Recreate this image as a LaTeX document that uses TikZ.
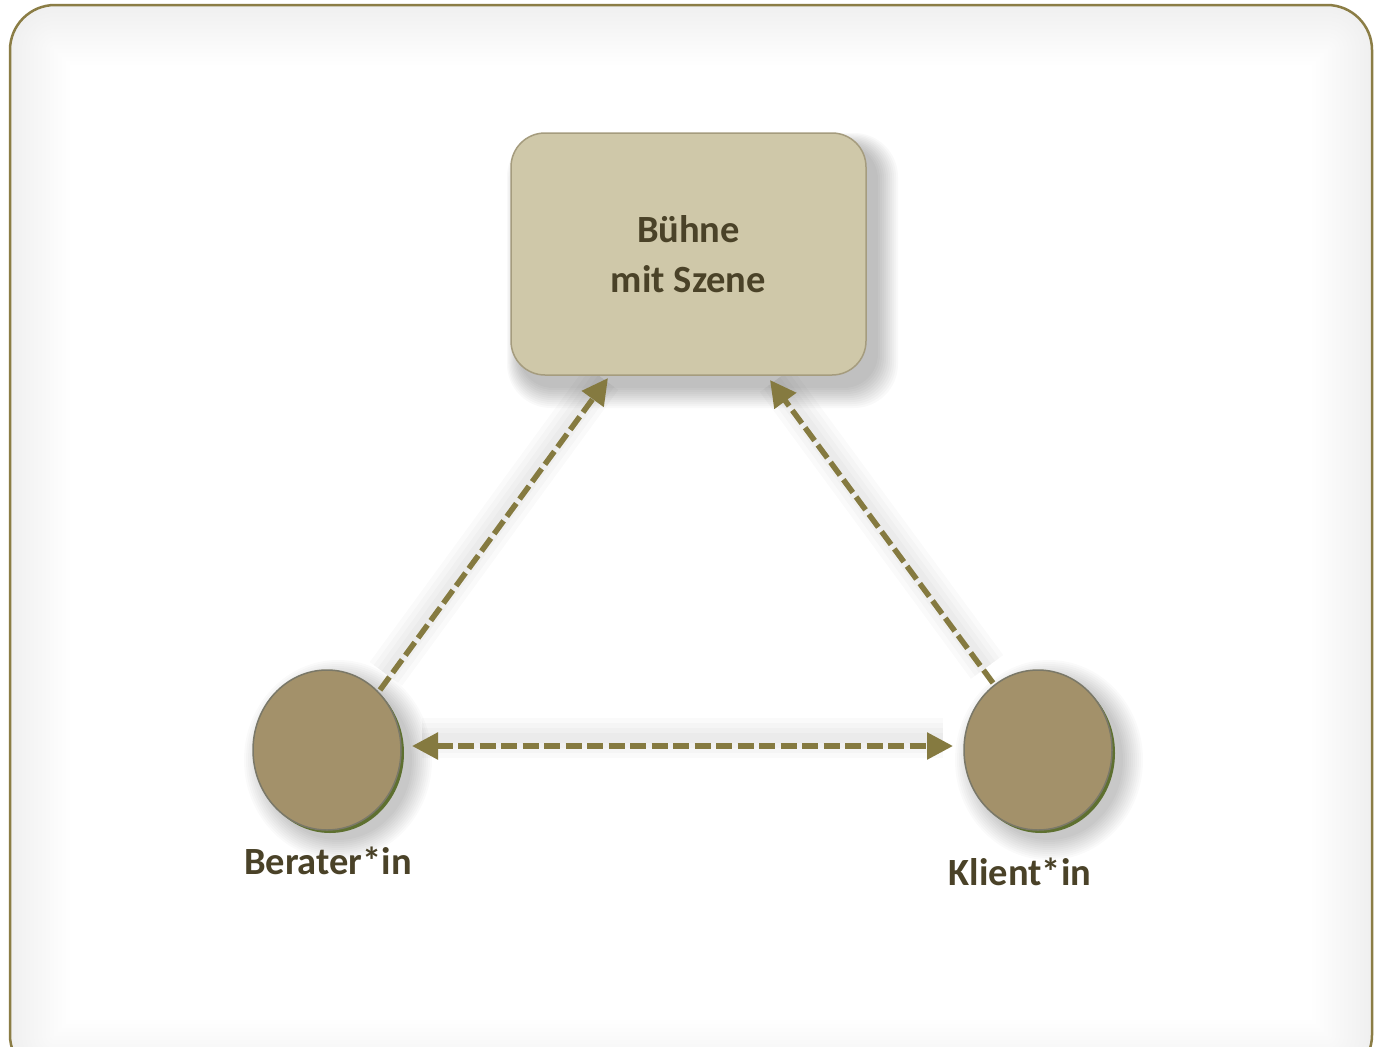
\documentclass[tikz,border=0pt]{standalone}
\usepackage{fontspec}
\setmainfont{Carlito}
\usetikzlibrary{arrows.meta,shapes.geometric}
\definecolor{frameol}{HTML}{8B7D45}
\definecolor{boxfill}{HTML}{CFC8A9}
\definecolor{boxline}{HTML}{A59C7E}
\definecolor{circfill}{HTML}{A3916A}
\definecolor{circline}{HTML}{7A7868}
\definecolor{circgreen}{HTML}{5E7030}
\definecolor{arrowcol}{HTML}{857A40}
\definecolor{txtcol}{HTML}{4A4228}
\tikzset{
  lbl/.style={font=\bfseries\fontsize{38.5}{50}\selectfont, text=txtcol, align=center},
  stagebox/.style={draw=boxline, line width=1.5pt, fill=boxfill, rounded corners=34pt,
     minimum width=355pt, minimum height=242pt, inner sep=0pt},
  person/.style={draw=circline, line width=1.5pt, fill=circfill, ellipse, minimum width=148pt, minimum height=160pt, inner sep=0pt},
  conn/.style={draw=arrowcol, line width=5.5pt, dash pattern=on 16pt off 5.5pt, -{Triangle[length=26pt,width=26pt]}},
  connshadow/.style={draw=black, opacity=0.018, line cap=butt, shorten <=10pt, shorten >=10pt},
}
\begin{document}
\begin{tikzpicture}[x=1pt,y=-1pt]
\useasboundingbox (0,0) rectangle (1374,1047);
\fill[white] (0,0) rectangle (1374,1047);
% frame inner glow
\begin{scope}
\clip[rounded corners=45pt] (10,5) rectangle (1372,1080);
\foreach \i in {0,4,...,56}{
  \draw[black, opacity=0.0045, line width=8pt+\i*2pt, rounded corners=45pt] (10,5) rectangle (1372,1080);
}
\end{scope}
\draw[frameol, line width=2.5pt, rounded corners=45pt] (10,5) rectangle (1372,1080);

\coordinate (b1) at (380,690);
\coordinate (b2) at (608,378);
\coordinate (k1) at (993,683);
\coordinate (k2) at (770,380);
\coordinate (h1) at (412,746);
\coordinate (h2) at (953,746);
% soft connector shadows
\foreach \w in {10,20,30,40}{
  \draw[connshadow, line width=\w pt] ([yshift=8pt]b1) -- ([yshift=8pt]b2);
  \draw[connshadow, line width=\w pt] ([yshift=8pt]k1) -- ([yshift=8pt]k2);
  \draw[connshadow, line width=\w pt] ([yshift=8pt]h1) -- ([yshift=8pt]h2);
}

% box shadow
\foreach \i in {0,2,...,20}{
  \fill[black, opacity=0.025, rounded corners=34pt+\i*0.5pt] (519-\i*0.6,145-\i*0.6) rectangle (878+\i,388+\i);
}
\node[stagebox, lbl] (buehne) at (688.5,254) {Bühne\\mit Szene};

% person shadows
\foreach \i in {0,2,...,20}{
  \fill[black, opacity=0.02] (338,760) ellipse ({74pt+\i*1pt} and {80pt+\i*1pt});
  \fill[black, opacity=0.02] (1049,760) ellipse ({74pt+\i*1pt} and {80pt+\i*1pt});
}
\fill[circgreen] (330,753) ellipse (74pt and 80pt);
\fill[circgreen] (1041,753) ellipse (74pt and 80pt);
\node[person] (berater) at (327,750) {};
\node[person] (klient) at (1038,750) {};

\node[lbl] (lberater) at (328,861) {Berater*in};
\node[lbl] (lklient) at (1020,872) {Klient*in};

\draw[conn] (b1) -- (b2);
\draw[conn] (k1) -- (k2);
\draw[conn, {Triangle[length=26pt,width=26pt]}-{Triangle[length=26pt,width=26pt]}] (h1) -- (h2);
\end{tikzpicture}
\end{document}
